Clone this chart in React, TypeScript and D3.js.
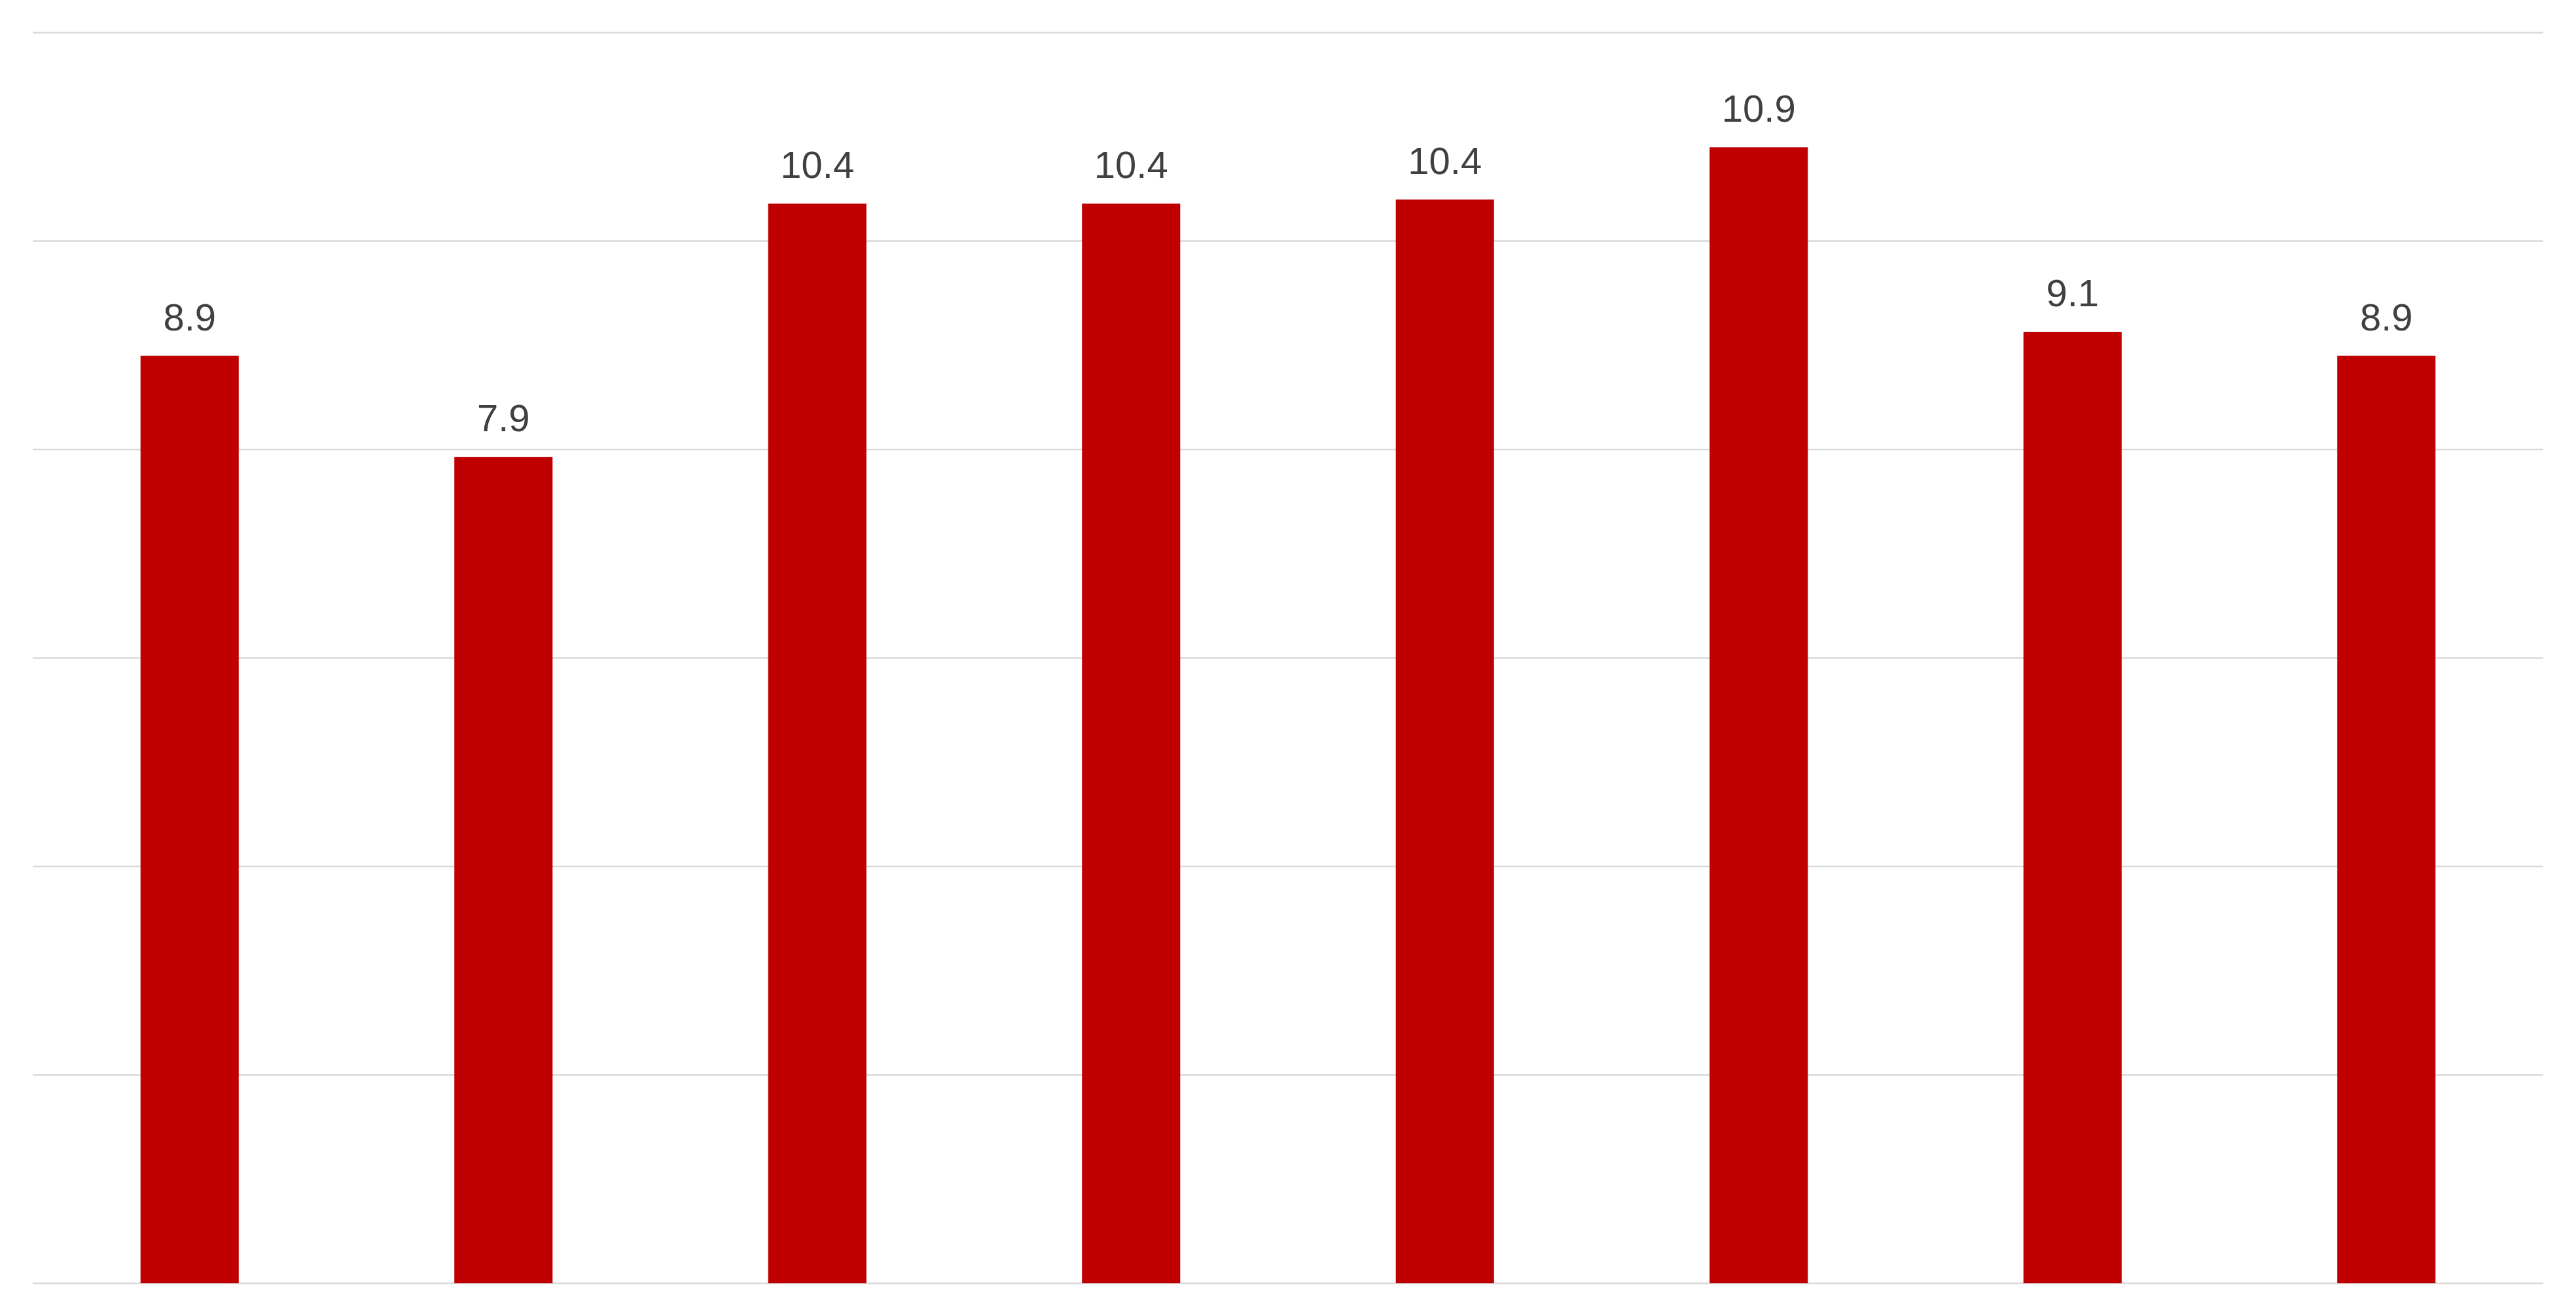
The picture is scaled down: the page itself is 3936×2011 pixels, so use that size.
import React from "react";
import * as d3 from "d3";

const categories = ["C1", "C2", "C3", "C4", "C5", "C6", "C7", "C8"];
const values = [8.9, 7.93, 10.36, 10.36, 10.4, 10.9, 9.13, 8.9];
const yTicks = [0, 2, 4, 6, 8, 10, 12];

const W = 3936;
const H = 2011;
const margin = { left: 50, right: 50, top: 50, bottom: 50 };

export default function App() {
  const x = d3
    .scaleBand<string>()
    .domain(categories)
    .range([margin.left, W - margin.right])
    .paddingInner(0.687)
    .paddingOuter(0.3435);
  const y = d3.scaleLinear().domain([0, 12]).range([H - margin.bottom, margin.top]);

  return (
    <svg
      width={W}
      height={H}
      viewBox={`0 0 ${W} ${H}`}
      style={{ position: "absolute", left: 0, top: 0, display: "block", background: "#ffffff" }}
    >
      <rect x={0} y={0} width={W} height={H} fill="#ffffff" />
      {yTicks.map((t) => (
        <line
          key={t}
          x1={margin.left}
          x2={W - margin.right}
          y1={y(t)}
          y2={y(t)}
          stroke="#D9D9D9"
          strokeWidth={2.7}
        />
      ))}
      {categories.map((c, i) => (
        <rect
          key={c}
          x={x(c)}
          y={y(values[i])}
          width={x.bandwidth()}
          height={y(0) - y(values[i])}
          fill="#C00000"
        />
      ))}
      {categories.map((c, i) => (
        <text
          key={c + "-l"}
          x={(x(c) as number) + x.bandwidth() / 2}
          y={y(values[i]) - 39}
          textAnchor="middle"
          fontFamily="'Liberation Sans', Arial, sans-serif"
          fontSize={58}
          fill="#404040"
        >
          {d3.format(".1f")(values[i])}
        </text>
      ))}
    </svg>
  );
}
